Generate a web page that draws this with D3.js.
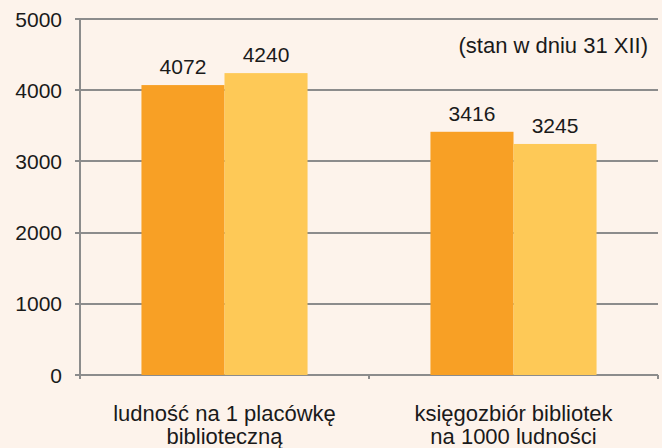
<!DOCTYPE html>
<meta charset="utf-8">
<style>
body { margin: 0; background: #fdf3eb; }
svg { font-family: "Liberation Sans", Arial, sans-serif; display: block; }
.grid line { stroke: #8c8c8c; stroke-width: 1.5px; shape-rendering: crispEdges; }
text { fill: #1a1a1a; }
</style>
<body>
<div id="chart"></div>
<script src="https://d3js.org/d3.v7.min.js"></script>
<script>
var width = 662,
    height = 448;

// data
var categories = [
  ['ludność na 1 placówkę', 'biblioteczną'],
  ['księgozbiór bibliotek', 'na 1000 ludności']
];
var seriesA = [4072, 3416];
var seriesB = [4240, 3245];
var yTicks = [0, 1000, 2000, 3000, 4000, 5000];
var note = '(stan w dniu 31 XII)';
var colors = ['#f8a025', '#fec957'];

var margin = {left: 80, right: 4, top: 19, bottom: 73};

var svg = d3.select('#chart').append('svg')
    .attr('width', width)
    .attr('height', height);

var x = d3.scaleBand()
    .domain(d3.range(categories.length))
    .range([margin.left, width - margin.right])
    .paddingInner(0)
    .paddingOuter(0);

var inner = d3.scaleBand()
    .domain([0, 1])
    .range([0, x.bandwidth()])
    .paddingOuter(0.74)
    .paddingInner(0);

var y = d3.scaleLinear()
    .domain([0, 5000])
    .range([height - margin.bottom, margin.top]);

// gridlines
var grid = svg.append('g').attr('class', 'grid');
grid.selectAll('line.h')
  .data(yTicks)
  .enter().append('line')
    .attr('x1', margin.left - 5)
    .attr('x2', width - margin.right)
    .attr('y1', function(d) { return Math.round(y(d)); })
    .attr('y2', function(d) { return Math.round(y(d)); });

grid.append('line')
    .attr('x1', margin.left).attr('x2', margin.left)
    .attr('y1', y(5000)).attr('y2', y(0) + 4);

// category ticks on baseline
grid.selectAll('line.c')
  .data(d3.range(categories.length + 1))
  .enter().append('line')
    .attr('x1', function(d) { return margin.left + d * x.bandwidth(); })
    .attr('x2', function(d) { return margin.left + d * x.bandwidth(); })
    .attr('y1', y(0))
    .attr('y2', y(0) + 4);

// y labels
svg.selectAll('text.ylab')
  .data(yTicks)
  .enter().append('text')
    .attr('class', 'ylab')
    .attr('x', margin.left - 18)
    .attr('y', function(d) { return y(d); })
    .attr('dy', '0.36em')
    .attr('text-anchor', 'end')
    .style('font-size', '21px')
    .text(function(d) { return d; });

var series = [seriesA, seriesB];

series.forEach(function(vals, s) {
  var g = svg.append('g');
  g.selectAll('rect')
    .data(vals)
    .enter().append('rect')
      .attr('x', function(d, i) { return x(i) + inner(s); })
      .attr('width', inner.bandwidth())
      .attr('y', function(d) { return y(d); })
      .attr('height', function(d) { return y(0) - y(d); })
      .attr('fill', colors[s]);

  g.selectAll('text')
    .data(vals)
    .enter().append('text')
      .attr('x', function(d, i) { return x(i) + inner(s) + inner.bandwidth() / 2; })
      .attr('y', function(d) { return y(d) - 11; })
      .attr('text-anchor', 'middle')
      .style('font-size', '21px')
      .text(function(d) { return d; });
});

// category labels
var cat = svg.selectAll('text.cat')
  .data(categories)
  .enter().append('text')
    .attr('class', 'cat')
    .attr('text-anchor', 'middle')
    .style('font-size', '22px');

cat.selectAll('tspan')
  .data(function(d, i) { return d.map(function(t) { return {t: t, i: i}; }); })
  .enter().append('tspan')
    .attr('x', function(d) { return x(d.i) + x.bandwidth() / 2; })
    .attr('y', function(d, j) { return 421 + j * 23; })
    .text(function(d) { return d.t; });

svg.append('text')
    .attr('x', 648)
    .attr('y', 53)
    .attr('text-anchor', 'end')
    .style('font-size', '22px')
    .text(note);
</script>
</body>
